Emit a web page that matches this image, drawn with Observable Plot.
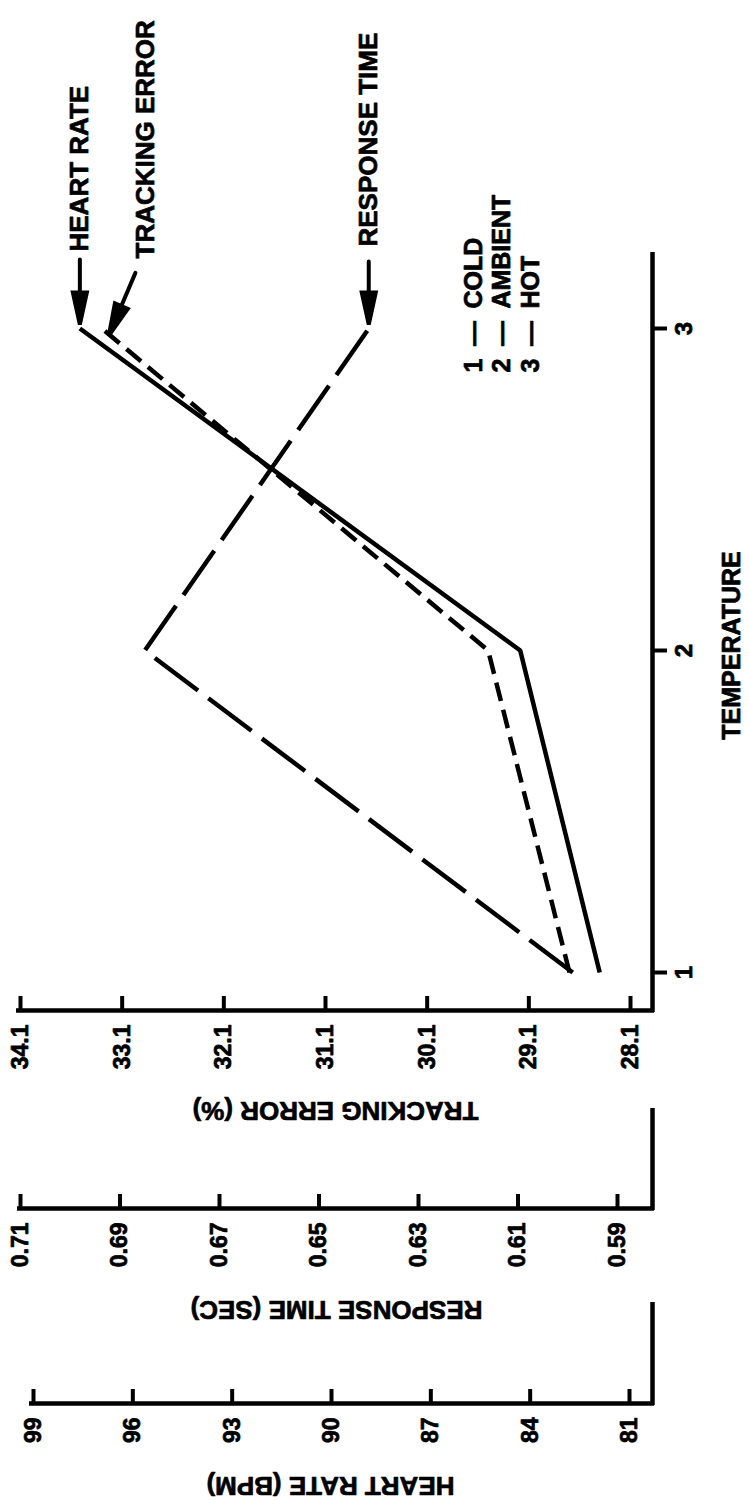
<!DOCTYPE html>
<html><head><meta charset="utf-8">
<script src="https://cdn.jsdelivr.net/npm/d3@7"></script>
<script src="https://cdn.jsdelivr.net/npm/@observablehq/plot@0.6"></script>
<style>
html,body{margin:0;padding:0;background:#fff;}
#chart svg{display:block;}
</style></head><body><div id="chart"></div>
<script>
// ---------- data ----------
const temperatures = [1, 2, 3];
const temperatureLabels = ["1", "2", "3"];
const conditionCodes = ["1", "2", "3"];
const conditionNames = ["COLD", "AMBIENT", "HOT"];
const heartRate = [81.9, 84.3, 97.6];        // BPM
const trackingError = [28.7, 29.5, 33.3];    // %
const responseTime = [0.599, 0.685, 0.640];  // SEC
const trackingTicks = [34.1, 33.1, 32.1, 31.1, 30.1, 29.1, 28.1];
const responseTicks = [0.71, 0.69, 0.67, 0.65, 0.63, 0.61, 0.59];
const heartTicks = [99, 96, 93, 90, 87, 84, 81];
const seriesNames = ["HEART RATE", "TRACKING ERROR", "RESPONSE TIME"];
const axisTitles = ["TRACKING ERROR (%)", "RESPONSE TIME (SEC)", "HEART RATE (BPM)"];
const xAxisTitle = "TEMPERATURE";

// ---------- layout ----------
const W = 749, H = 1500;
const xDomain = [34.1, 28.1], xRange = [20, 630];
const yDomain = [1, 3], yRange = [972, 328];
const xS = d3.scaleLinear(xDomain, xRange);
const yS = d3.scaleLinear(yDomain, yRange);
const px2x = p => xS.invert(p);
const px2y = p => yS.invert(p);
const rtPx = d3.scaleLinear([0.71, 0.59], [20, 617]);
const hrPx = d3.scaleLinear([99, 81], [33, 629]);
const teX = v => v;
const rtX = v => px2x(rtPx(v));
const hrX = v => px2x(hrPx(v));

const LW = 4.5;
const FONT = "'Liberation Sans', Arial, Helvetica, sans-serif";
const TXT = {fontWeight: "bold", fill: "black", stroke: "black", strokeWidth: 0.7};
const marks = [];

// value axes (stacked, below the plot)
const axes = [
  {ticks: trackingTicks, toX: teX, fmt: d3.format(".1f"), base: 1010, left: 18, top: null, title: axisTitles[0], titleY: 1110, titleX: 335},
  {ticks: responseTicks, toX: rtX, fmt: d3.format(".2f"), base: 1208, left: 19, top: 1108, title: axisTitles[1], titleY: 1309, titleX: 336},
  {ticks: heartTicks, toX: hrX, fmt: d3.format("d"), base: 1403, left: 31, top: 1302, title: axisTitles[2], titleY: 1485, titleX: 330}
];
const axisRight = 652;
axes.forEach(a => {
  marks.push(Plot.ruleY([px2y(a.base)], {x1: px2x(a.left - 2), x2: px2x(axisRight + 2), strokeWidth: LW}));
  marks.push(Plot.ruleX(a.ticks, {x: d => a.toX(d), y1: px2y(a.base), y2: px2y(a.base - 14), strokeWidth: 4}));
  if (a.top != null) marks.push(Plot.ruleX([px2x(axisRight)], {y1: px2y(a.top), y2: px2y(a.base + 2), strokeWidth: LW}));
  marks.push(Plot.text(a.ticks, {x: d => a.toX(d), y: px2y(a.base + 14), text: d => a.fmt(d), rotate: -90, textAnchor: "end", lineAnchor: "middle", fontSize: 23, ...TXT}));
  marks.push(Plot.text([a.title], {x: px2x(a.titleX), y: px2y(a.titleY), text: d => d, rotate: 180, lineAnchor: "middle", fontSize: 26, ...TXT}));
});

// temperature axis (vertical, right)
marks.push(Plot.ruleX([px2x(axisRight)], {y1: px2y(1012), y2: px2y(252), strokeWidth: LW}));
marks.push(Plot.ruleY(temperatures, {y: d => d, x1: px2x(axisRight), x2: px2x(667), strokeWidth: 4}));
marks.push(Plot.text(temperatures, {y: d => d, x: px2x(684), text: (d, i) => temperatureLabels[i], rotate: -90, lineAnchor: "middle", fontSize: 24, ...TXT}));
marks.push(Plot.text([xAxisTitle], {x: px2x(731), y: px2y(645), text: d => d, rotate: -90, lineAnchor: "middle", fontSize: 25, ...TXT}));

// data series
const series = [
  {values: heartRate, toX: hrX, dash: null, arrow: {len: 65, rot: 180, dx: 0, dy: -4}, label: {dx: 0, dy: -77}},
  {values: trackingError, toX: teX, dash: "19,9", arrow: {len: 68, rot: 203, dx: 7, dy: 7}, label: {dx: 44, dy: -70}},
  {values: responseTime, toX: rtX, dash: "54,13", arrow: {len: 63, rot: 180, dx: 0, dy: -4}, label: {dx: 0, dy: -82}}
];
const arrowShape = {
  draw(ctx, l) {
    const hl = 32, hw = 7;
    ctx.moveTo(0, 0);
    ctx.lineTo(0, -l + hl);
    ctx.moveTo(-hw, -l + hl);
    ctx.lineTo(0, -l);
    ctx.lineTo(hw, -l + hl);
    ctx.closePath();
  }
};
series.forEach((s, k) => {
  marks.push(Plot.line(temperatures, {
    x: (t, i) => s.toX(s.values[i]), y: t => t,
    strokeWidth: LW, strokeDasharray: s.dash, strokeLinejoin: "miter", strokeLinecap: "butt"
  }));
  const last = temperatures.length - 1;
  const end = [{t: temperatures[last], v: s.values[last]}];
  marks.push(Plot.vector(end, {
    x: d => s.toX(d.v), y: d => d.t, length: s.arrow.len, rotate: s.arrow.rot, anchor: "end",
    shape: arrowShape, stroke: "black", fill: "black", strokeWidth: 4, strokeLinejoin: "miter",
    dx: s.arrow.dx, dy: s.arrow.dy
  }));
  marks.push(Plot.text(end, {
    x: d => s.toX(d.v), y: d => d.t, text: () => seriesNames[k], rotate: -90,
    textAnchor: "start", lineAnchor: "middle", dx: s.label.dx, dy: s.label.dy,
    fontSize: 26, ...TXT
  }));
});

// legend
marks.push(Plot.text(conditionCodes, {
  x: (d, i) => px2x(473 + i * 28.5), y: px2y(372),
  text: (d, i) => `${d}\u2002\u2014\u2002${conditionNames[i]}`,
  rotate: -90, textAnchor: "start", lineAnchor: "middle", fontSize: 25, ...TXT
}));

const chart = Plot.plot({
  width: W, height: H,
  marginTop: 0, marginRight: 0, marginBottom: 0, marginLeft: 0,
  x: {domain: xDomain, range: xRange, axis: null},
  y: {domain: yDomain, range: yRange, axis: null},
  style: {background: "white", color: "black", fontFamily: FONT},
  marks
});
document.getElementById("chart").appendChild(chart);
</script>
</body></html>
